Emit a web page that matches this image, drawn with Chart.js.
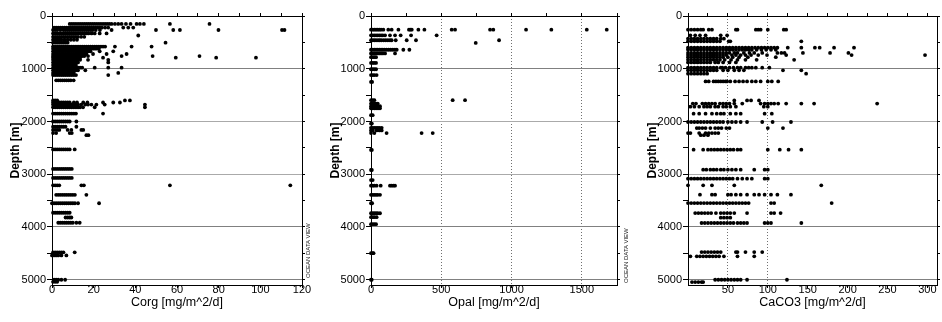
<!DOCTYPE html>
<html>
<head>
<meta charset="utf-8">
<script src="https://cdn.jsdelivr.net/npm/chart.js@4"></script>
<style>
  body { margin: 0; background: #fff; width: 942px; height: 322px; position: relative; overflow: hidden; font-family: "Liberation Sans", Arial, sans-serif; }
  .panel { position: absolute; top: 0; width: 314px; height: 322px; }
  .odv { position: absolute; font-size: 6px; line-height: 6px; transform: rotate(-90deg); transform-origin: left top; white-space: nowrap; color: #222; }
</style>
</head>
<body>
<div class="panel" style="left:0"><canvas id="corgChart" width="314" height="322"></canvas></div>
<div class="panel" style="left:314px"><canvas id="opalChart" width="314" height="322"></canvas></div>
<div class="panel" style="left:628px"><canvas id="caco3Chart" width="314" height="322"></canvas></div>
<div class="odv" style="left:305px;top:278px">OCEAN DATA VIEW</div>
<div class="odv" style="left:623px;top:283px">OCEAN DATA VIEW</div>
<script>
// axis ticks
const depthTicks = [0, 500, 1000, 1500, 2000, 2500, 3000, 3500, 4000, 4500, 5000];
const depthLabels = [0, 1000, 2000, 3000, 4000, 5000];
const corgTicks = [0, 20, 40, 60, 80, 100, 120];
const corgMinor = [0, 10, 20, 30, 40, 50, 60, 70, 80, 90, 100, 110, 120];
const opalTicks = [0, 500, 1000, 1500];
const opalMinor = [0, 250, 500, 750, 1000, 1250, 1500, 1750];
const caco3Ticks = [50, 100, 150, 200, 250, 300];
const caco3Minor = [0, 25, 50, 75, 100, 125, 150, 175, 200, 225, 250, 275, 300];

// depth levels [m] and the fluxes [mg/m^2/d] read at each level
const corgDepth = [150, 220, 265, 330, 370, 395, 450, 505, 580, 620, 670, 720, 760, 790, 830, 880, 930, 980, 1030, 1080, 1120, 1220,
  1600, 1640, 1680, 1730, 1850, 2000, 2100, 2160, 2220, 2260, 2530, 2900, 3070, 3210, 3390, 3550, 3730, 3820, 3920, 4480, 4540, 5000, 5040];
const corgValues = [
  [8.5,9.5,10.5,11.5,12.5,13.5,14.5,15.5,16.5,17.5,18.5,19.5,20.5,21.5,22.5,23.5,24.5,25.5,26.5,27.5,28.6,30.2,31.8,33.4,35.5,37.7,40.6,42.2,44.1,56.6,75.6],
  [1,2,3,4,5,6,7,8,9,10,11,12,13,14,15,16,17,18,19,20,21,22,23,24,25.5,27,34.2,36.6,39],
  [0.5,1.5,2.5,4,5.5,6.5,7.5,8.5,9.5,10.5,11.5,12.5,13.5,14.5,15.5,16.5,17.5,18.5,19.5,21,23,28.6,49.9,58.2,61.4,79.9,110.4,111.6],
  [0.5,1.5,2.5,3.5,4.5,5.5,6.5,7.5,8.5,9.5,10.5,11.5,12.5,13.5,14.5,15.5,16.5,17.5,19,20.5,22.9,26.2],
  [41.4],
  [0.5,1.5,2.5,3.5,4.5,5.5,6.5,7.5,8.5,9.5,10.5,11.5,12.5,14,15.5],
  [0.5,1.5,2.5,3.5,4.5,6,7.5,9,10.5,12],
  [0.5,1.5,2.5,3.5,4.5,5.5,6.5,7.5,54.5],
  [0.5,1.5,2.5,3.5,4.5,5.5,6.5,7.5,8.5,9.5,10.5,11.5,12.5,13.5,14.5,15.5,16.5,17.5,18.5,19.5,20.5,21.5,22.5,23.5,24.5,25.5,30.2,38.2,47.8],
  [0.5,1.5,2.5,3.5,4.5,5.5,6.5,7.5,8.5,9.5,10.5,11.5,12.5,13.5,14.5,15.5,16.5,17.5,18.5,19.5,20.5,21.5,22.5],
  [0.5,1.5,2.5,3.5,4.5,5.5,6.5,7.5,8.5,9.5,10.5,11.5,12.5,13.5,14.5,15.5,16.5,17.5,18.5,22.9,29.4],
  [0.5,1.5,2.5,3.5,4.5,5.5,6.5,7.5,8.5,9.5,10.5,11.5,12.5,13.5,14.5,15.5,16.5,19.7,26.2,35.8],
  [0.5,1.5,2.5,3.5,4.5,5.5,6.5,7.5,8.5,9.5,10.5,11.5,12.5,13.5,14.5,15.5,17.3,33.4,48.3,70.8],
  [0.5,1.5,2.5,3.5,4.5,5.5,6.5,7.5,8.5,9.5,10.5,11.5,12.5,13.5,24.5,59.4,78.8,97.9],
  [0.5,1.5,2.5,3.5,4.5,5.5,6.5,7.5,8.5,9.5,10.5,11.5,12.5,13.5,17.3,27],
  [0.5,1.5,2.5,3.5,4.5,5.5,6.5,7.5,8.5,9.5,10.5,11.5,12.5,27],
  [0.5,1.5,2.5,3.5,4.5,5.5,6.5,7.5,8.5,9.5,10.5,11.5],
  [0.5,1.5,2.5,3.5,4.5,5.5,6.5,7.5,8.5,9.5,10.5,11.5,12.5,13.5,14.5,20.5,27,33.4],
  [0.5,1.5,2.5,3.5,4.5,5.5,6.5,7.5,8.5,9.5,10.5,11.5,12.5,16],
  [0.5,1.5,2.5,3.5,4.5,5.5,6.5,7.5,8.5,9.5,10.5,31.8],
  [0.5,1.5,2.5,3.5,4.5,5.5,6.5,7.5,8.5,9.5,10.5,11.5,27],
  [2,3,4,5,6,7,8,9,10.4],
  [0.5,1.5,2.5,35,37.4],
  [0.5,1.5,2.5,3.5,4.5,5.5,6.5,7.5,8.5,10.5,12,15,17,24.5,29.4,32.6],
  [0.5,1.5,2.5,3.5,4.5,5.5,6.5,7.5,8.5,9.5,10.5,11.5,12.5,14,16,17.3,18.9,21.3,25.3,44.6],
  [0.5,1.5,2.5,3.5,4.5,5.5,6.5,7.5,8.5,9.5,10.5,11.5,12.5,13.5,14.9,20.5,44.6],
  [0.5,1.5,2.5,3.5,4.5,5.5,6.5,7.5,8.5,9.5,10.5,11.5,24.5],
  [0.5,1.5,2.5,3.5,4.5,5.5,6.5,7.5,8.5,11.7],
  [0.5,1.5,2.5,3.5,4.5,5.5,6.5,11.7],
  [0.5,1.5,2.5,3.5,7.5,9.3,14.1,15],
  [0.5,2,8.5,9.5],
  [16.5,17.5],
  [0.5,1.5,2.5,3.5,4.5,5.5,6.5,7.5,8.5,10.9],
  [0.5,1.5,2.5,3.5,4.5,5.5,6.5,7.5,8.5,9.5],
  [0.5,1.5,2.5,3.5,4.5,5.5,6.5,7.5,8.5,9.5],
  [0.5,1.5,2.5,3.5,14.1,15.3,56.6,114.4],
  [2,3,4,5,6,7,8,9,10,11,16.5],
  [0,1,2,3,4,5,6,7,8,9,10,11,12.5,22.6],
  [0.5,1.5,2.5,3.5,4.5,5.5,6.5,7.5,8.5],
  [6.5,7.5,8.5,9.3],
  [3,4,5,6,7,8,9,10,11.7,13.3],
  [0.5,1.5,2.5,3.5,4.5,5.5,10.9],
  [0,1,2,3,4.5,6.9],
  [1,2,3,4.5,6.3],
  [0.5,1.5,2.5]
];

const opalDepth = [260, 366, 460, 510, 640, 710, 780, 890, 1010, 1120, 1250, 1595, 1660, 1710, 1750, 1880, 2040, 2120, 2170, 2220,
  2540, 2920, 3110, 3216, 3390, 3550, 3740, 3815, 3947, 4496, 5000];
const opalValues = [
  [0,12,24,36,48,60,72,88,123,147,195,270,280,290,337,380,574,598,847,870,1103,1283,1535,1677],
  [0,12,24,36,48,60,72,84,100,135,171,211,285,467],
  [0,12,24,36,50,62,74,90,105,120,135,147,176,254,320,911],
  [745],
  [0,12,24,36,48,60,72,84,96,110,125,140,155,170,183,230,273],
  [0,12,24,36,48,60,72,85,100,171],
  [0,12,24,36],
  [0,12,24,36],
  [0,12,24,36],
  [0,12,24,40],
  [0,8],
  [0,12,24,581,669],
  [0,12,24,36,48],
  [0,12,24,36,48,64],
  [0,12,24,36,50,64],
  [0,12],
  [0,6],
  [0,12,24,36,48,60,76],
  [0,12,40,60,76],
  [0,24,111,360,439],
  [0,6],
  [0,6],
  [0,12],
  [0,12,24,40,69,135,147,160,171],
  [0,12,24,36,48,64],
  [0,8],
  [0,12,24,36,48,64],
  [0,12,24,40],
  [0,12,24,36],
  [0,12,18],
  [0,5]
];

const caco3Depth = [259, 367, 430, 480, 600, 640, 700, 740, 780, 830, 880, 980, 1030, 1094, 1240, 1600, 1660, 1720, 1852, 2010,
  2124, 2219, 2260, 2535, 2914, 3085, 3211, 3388, 3546, 3736, 3824, 3925, 4475, 4557, 5000, 5045];
const caco3Values = [
  [0,4,8,12,16,19,26,30,60,62,85,88,91,100,120,123],
  [3,9,15,22,41,49],
  [0,4,8,12,16,20,24,28,32,36,41,45],
  [0,4,8,12,16,20,24,28,32,36,40,51,53,142],
  [0,4,8,12,16,20,24,28,32,36,40,44,48,52,56,60,64,68,72,76,80,84,88,92,96,100,104,108,112,125,142,159,165,183,208],
  [0,4,8,12,16,20,24,28,32,36,40,44,48,52,56,60,64,68,72,76,80,86,92,98,104,110],
  [0,4,8,12,16,20,24,28,32,36,40,44,48,52,58,62,70,77,83,93,112,117,121,144,178,201],
  [0,4,8,12,16,20,24,28,32,36,40,44,48,55,60,66,72,79,88,99,123,205,297],
  [0,4,8,12,16,20,24,28,32,36,40,44,50,56,64,75,110],
  [0,4,8,12,16,20,24,28,32,36,40,46,54,62,72,86,133],
  [0,4,8,12,16,20,24,28,34,38,44,52,60],
  [0,4,8,12,16,20,24,28,32,36,41,43,47,52,57,62,66,72,76,80,85,93,102],
  [0,4,8,12,16,20,24,28,32,36,44,50,58,64,70,119,142],
  [0,4,8,12,16,20,24,148],
  [22,26,32,35,38,41,44,47,49,53,59,64,69,74,80,85,91,100,105,113],
  [58,74,79,89],
  [6,10,18,22,26,30,34,40,44,48,52,58,68,91,96,100,104,108,113,123,142,158,237],
  [3,8,14,20,24,28,34,38,44,48,53,60,95,100],
  [7,14,22,30,36,41,45,53,60,66,96,105],
  [0,4,8,12,16,20,24,28,32,36,40,44,50,55,60,66,74,93,106,129],
  [11,14,18,22,28,34,38,42,48,52,100,119],
  [0,3,14,22,26,30,34,38],
  [16,20,25],
  [7,19,25,29,33,37,41,45,49,53,57,62,66,100,115,126,142],
  [19,23,28,32,36,41,45,50,55,60,66,83,96,100],
  [0,4,8,12,16,20,24,28,32,36,40,44,48,52,56,62,68,74,80,96,100],
  [0,19,30,58,167],
  [15,30,34,50,54,60,66,74,83,89,96,104,112,129],
  [0,4,8,12,16,20,24,28,32,36,40,44,48,52,56,60,64,68,72,76,104,108,180],
  [9,13,17,21,25,29,35,41,45,49,53,58,74,104,108,116],
  [41,45,49,53],
  [17,21,25,29,33,37,41,45,49,53,57,62,66,70,74,96,100,104,142],
  [17,21,25,29,33,37,41,60,62,72,83,93],
  [3,11,15,19,23,27,31,35,39,45,62,83],
  [34,38,42,46,50,54,58,62,66,74,124],
  [5,9,13,17,19]
];

Chart.defaults.font.family = '"Liberation Sans", Arial, sans-serif';
Chart.defaults.font.size = 11;
Chart.defaults.color = '#000';

const NONE = 'rgba(0,0,0,0)';

function fixedTicks(list) {
  return function(s) { s.ticks = list.map(function(v) { return { value: v }; }); };
}

function depthGrid(c) {
  const v = c.tick ? c.tick.value : 0;
  if (v <= 0 || depthLabels.indexOf(v) < 0) return NONE;
  return (v === 2000 || v === 3000) ? '#aaa' : '#808080';
}

function makePanel(id, depth, values, o) {
  const pts = [];
  depth.forEach(function(d, i) {
    values[i].forEach(function(v) { pts.push({ x: v, y: d }); });
  });
  return new Chart(document.getElementById(id), {
    type: 'scatter',
    data: { datasets: [{ data: pts, backgroundColor: '#000', borderWidth: 0, pointRadius: 1.9, clip: 3 }] },
    options: {
      responsive: false, animation: false, events: [],
      layout: { padding: { top: 13, right: o.padRight, left: 0, bottom: 0 } },
      plugins: { legend: { display: false }, tooltip: { enabled: false } },
      scales: {
        x: {
          type: 'linear', position: 'bottom', min: 0, max: o.xMax,
          afterBuildTicks: fixedTicks(o.xTicks),
          ticks: { padding: -5, maxRotation: 0, autoSkip: false,
            callback: function(v) { return String(v); } },
          grid: { color: function(c) { return c.tick && o.vGrid.indexOf(c.tick.value) >= 0 ? '#707070' : NONE; },
            tickColor: '#000', tickLength: 3 },
          border: { color: '#000', width: 1, dash: [1, 2] },
          title: { display: true, text: o.title, font: { size: 12.5 }, padding: { top: 0, bottom: 12 } },
          afterFit: function(s) { s.height = 37; s.paddingLeft = 0; s.paddingRight = 0; }
        },
        x2: {
          type: 'linear', position: 'top', min: 0, max: o.xMax,
          afterBuildTicks: fixedTicks(o.xMinor),
          ticks: { display: false },
          grid: { drawOnChartArea: false, color: '#000', tickLength: 3 },
          border: { color: '#000' },
          afterFit: function(s) { s.height = 3; s.paddingLeft = 0; s.paddingRight = 0; }
        },
        y: {
          type: 'linear', position: 'left', reverse: true, min: 0, max: 5100,
          afterBuildTicks: fixedTicks(depthTicks),
          ticks: { padding: 1, autoSkip: false,
            callback: function(v) { return depthLabels.indexOf(v) >= 0 ? String(v) : ''; } },
          grid: { color: depthGrid, tickColor: '#000', tickLength: 5 },
          border: { color: '#000' },
          title: { display: true, text: 'Depth [m]', font: { size: 12, weight: 'bold' }, padding: { top: o.yTitlePad, bottom: 0 } },
          afterFit: function(s) { s.width = o.yWidth; s.paddingTop = 0; s.paddingBottom = 0; }
        },
        y2: {
          type: 'linear', position: 'right', reverse: true, min: 0, max: 5100,
          afterBuildTicks: fixedTicks(depthTicks),
          ticks: { display: false },
          grid: { drawOnChartArea: false, color: '#000', tickLength: 3 },
          border: { color: '#000' },
          afterFit: function(s) { s.width = 3; s.paddingTop = 0; s.paddingBottom = 0; }
        }
      }
    }
  });
}

makePanel('corgChart', corgDepth, corgValues, {
  xMax: 120, xTicks: corgTicks, xMinor: corgMinor, vGrid: [],
  title: 'Corg [mg/m^2/d]', yWidth: 52, yTitlePad: 8, padRight: 9
});
makePanel('opalChart', opalDepth, opalValues, {
  xMax: 1750, xTicks: opalTicks, xMinor: opalMinor, vGrid: [500, 1000, 1500],
  title: 'Opal [mg/m^2/d]', yWidth: 57, yTitlePad: 14, padRight: 8
});
makePanel('caco3Chart', caco3Depth, caco3Values, {
  xMax: 312, xTicks: caco3Ticks, xMinor: caco3Minor, vGrid: [50, 100],
  title: 'CaCO3 [mg/m^2/d]', yWidth: 60, yTitlePad: 17, padRight: 2
});
</script>
</body>
</html>
